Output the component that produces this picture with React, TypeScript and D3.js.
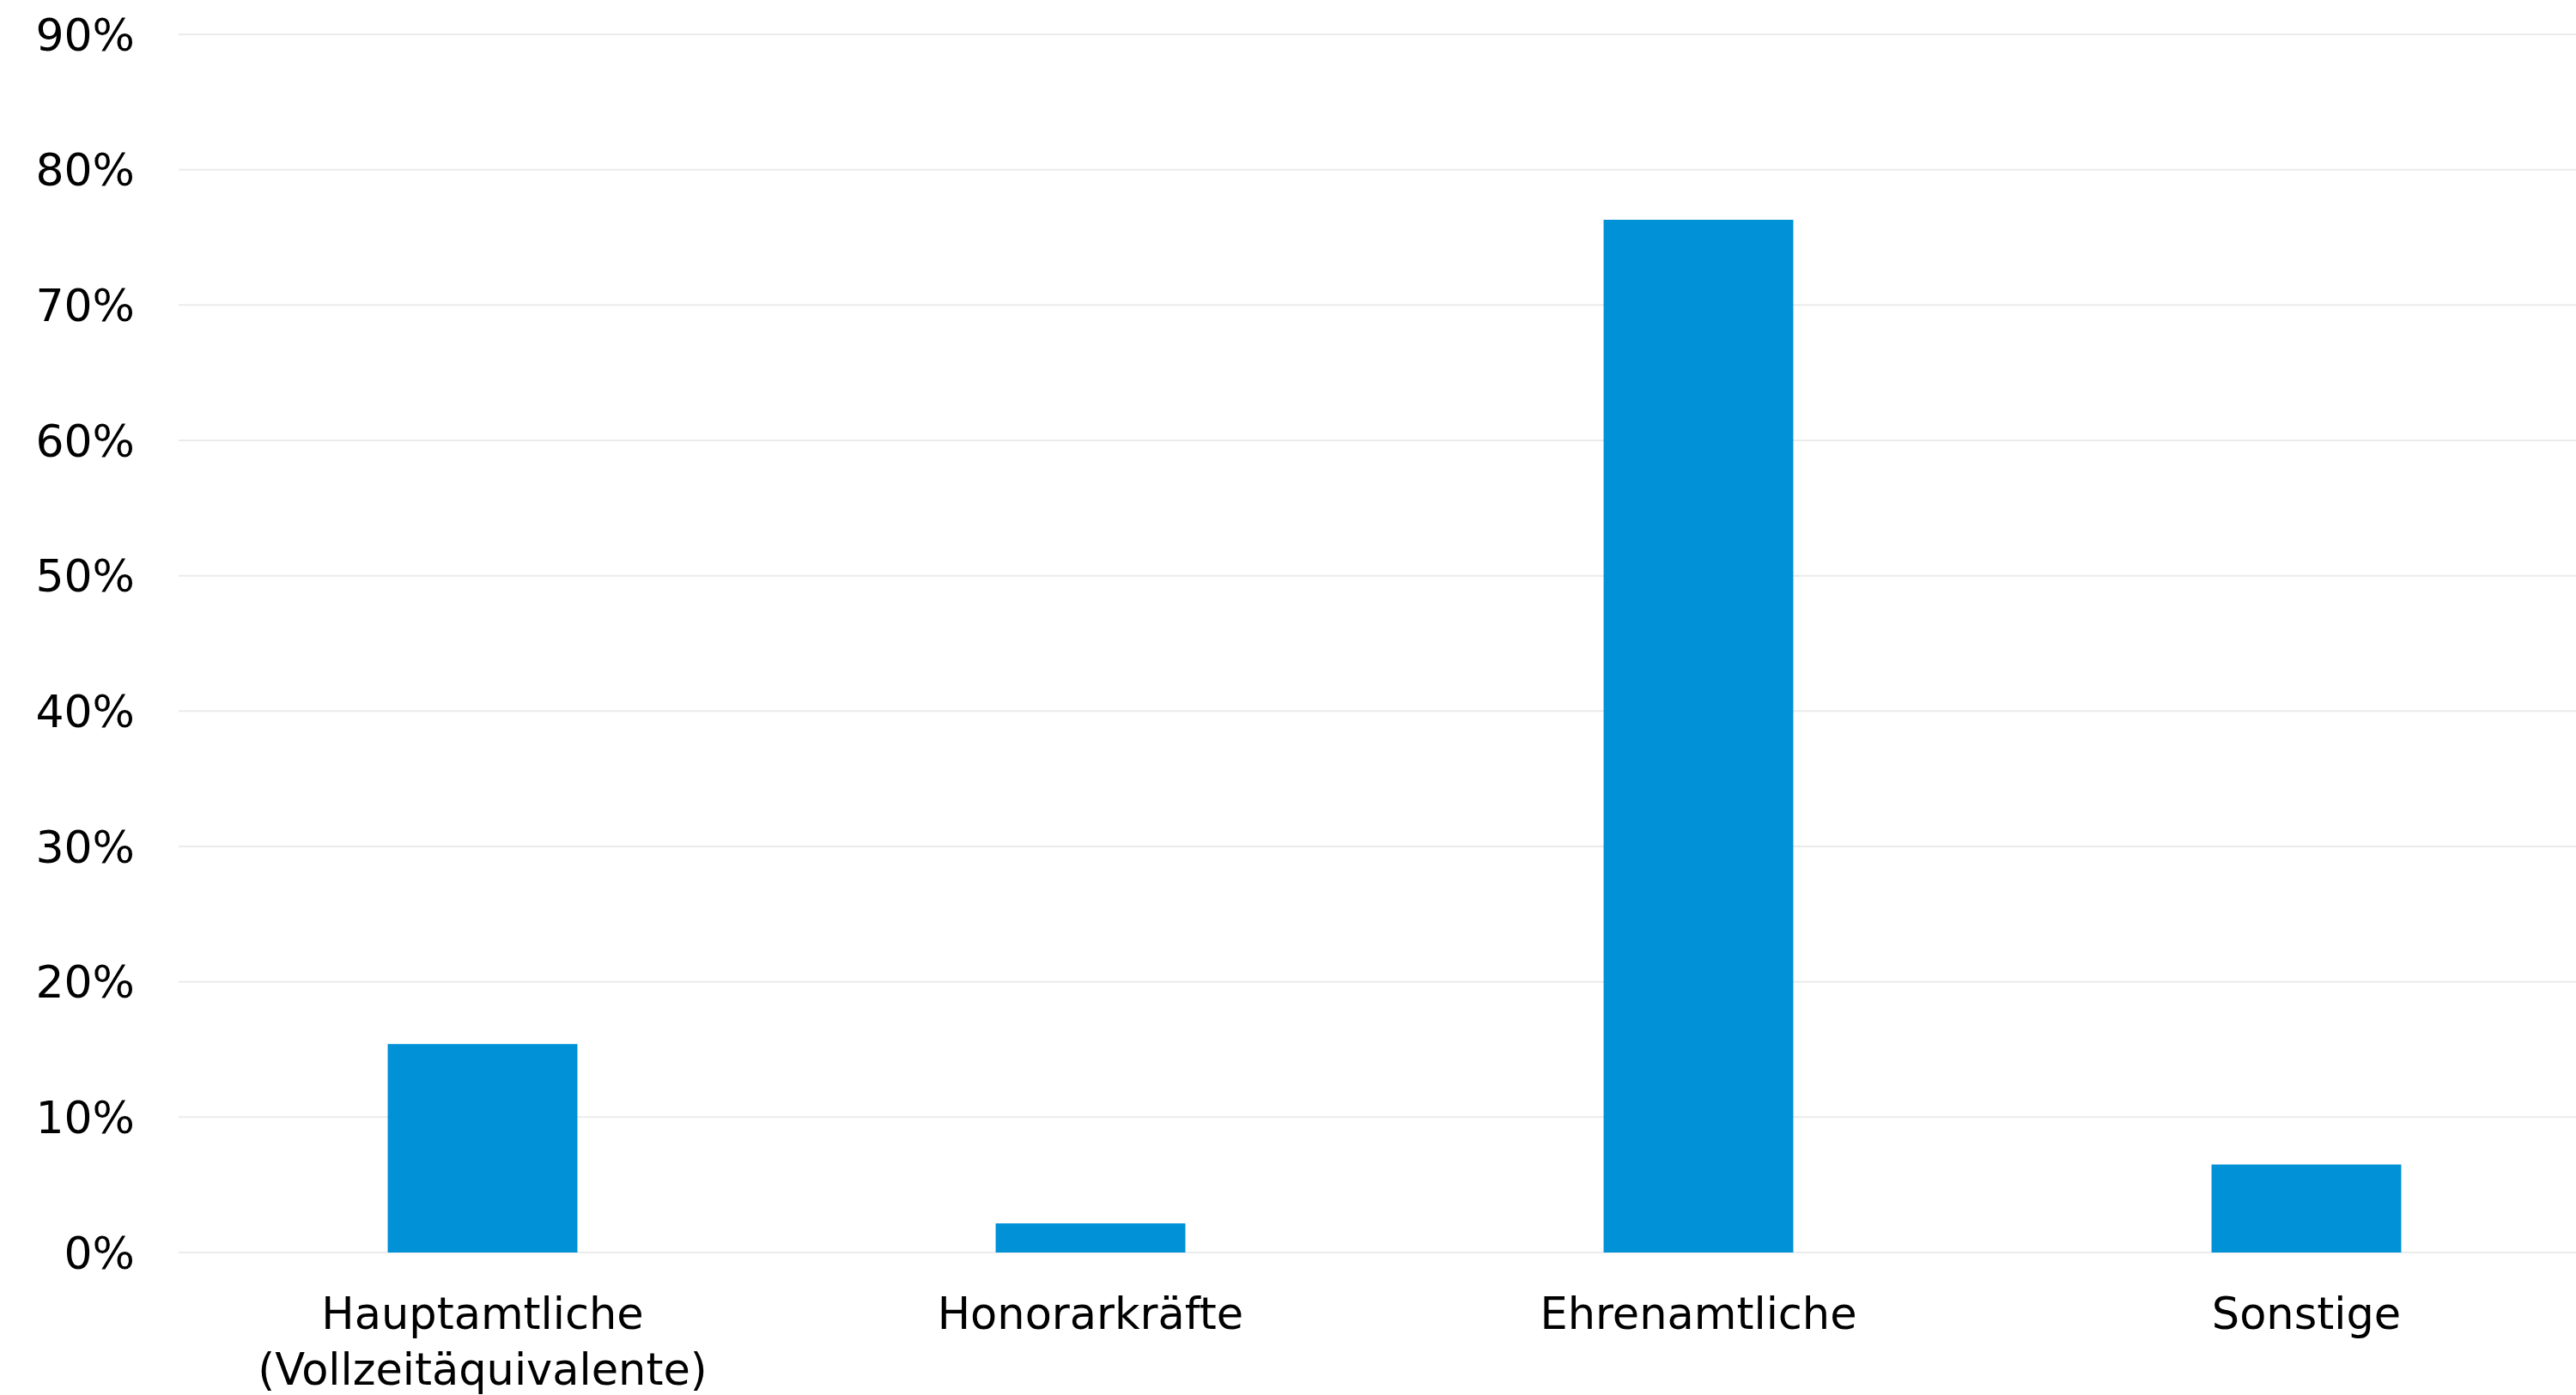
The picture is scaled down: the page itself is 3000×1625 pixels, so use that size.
import React from "react";
import * as d3 from "d3";

const categories: string[][] = [
  ["Hauptamtliche", "(Vollzeitäquivalente)"],
  ["Honorarkräfte"],
  ["Ehrenamtliche"],
  ["Sonstige"],
];
const values: number[] = [15.4, 2.15, 76.3, 6.5];
const yTicks: number[] = [0, 10, 20, 30, 40, 50, 60, 70, 80, 90];

const W = 3000;
const H = 1625;
const FONT = "'DejaVu Sans', 'Noto Sans', sans-serif";

export default function App() {
  const keys = categories.map((c) => c.join(" "));
  const x = d3
    .scaleBand<string>()
    .domain(keys)
    .range([208, 3040])
    .paddingInner(0.688)
    .paddingOuter(0.344);
  const y = d3.scaleLinear().domain([0, 90]).range([1459, 40]);

  return (
    <svg
      width={W}
      height={H}
      style={{ position: "absolute", left: 0, top: 0, background: "#fff" }}
      fontFamily={FONT}
    >
      {yTicks.map((t) => (
        <g key={t}>
          <line x1={208} x2={W} y1={y(t)} y2={y(t)} stroke="#ebebeb" strokeWidth={2} />
          <text
            x={157}
            y={y(t)}
            dy="0.36em"
            textAnchor="end"
            fontSize={52}
            fill="#000"
          >
            {t + "%"}
          </text>
        </g>
      ))}
      {values.map((v, i) => (
        <rect
          key={keys[i]}
          x={x(keys[i])}
          y={y(v)}
          width={x.bandwidth()}
          height={y(0) - y(v)}
          fill="#0091d6"
        />
      ))}
      {categories.map((lines, i) => (
        <text
          key={keys[i]}
          x={(x(keys[i]) as number) + x.bandwidth() / 2}
          y={1548}
          textAnchor="middle"
          fontSize={51}
          fill="#000"
        >
          {lines.map((l, j) => (
            <tspan key={j} x={(x(keys[i]) as number) + x.bandwidth() / 2} dy={j === 0 ? 0 : 65}>
              {l}
            </tspan>
          ))}
        </text>
      ))}
    </svg>
  );
}
